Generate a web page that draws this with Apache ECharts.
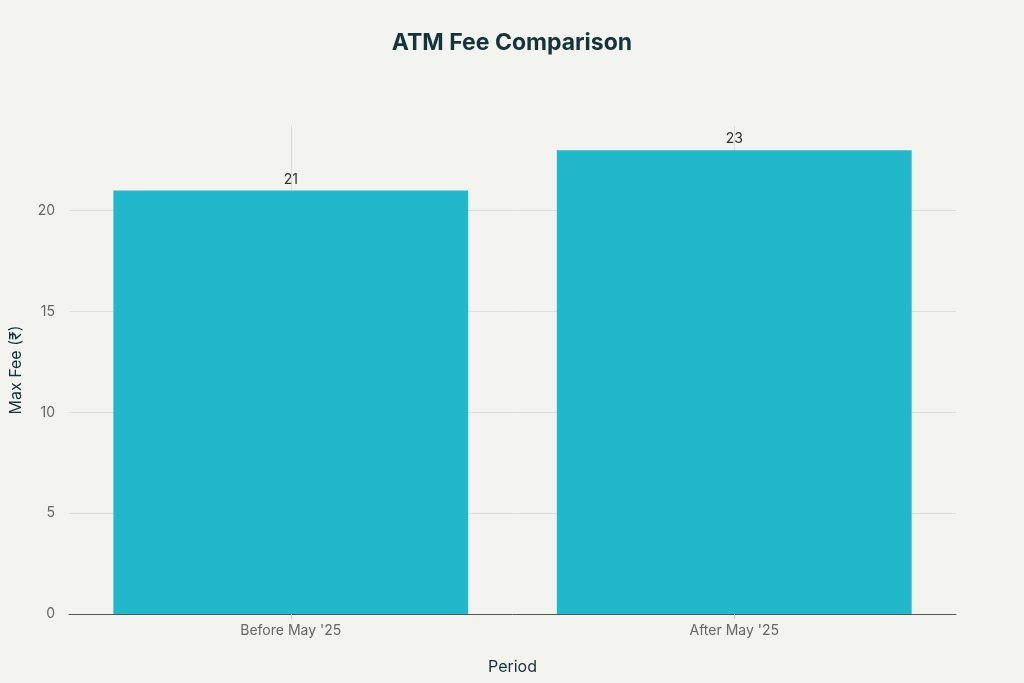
<!DOCTYPE html>
<html><head><meta charset="utf-8">
<script src="https://cdn.jsdelivr.net/npm/echarts@6/dist/echarts.min.js"></script>
<style>html,body{margin:0;padding:0;background:#f3f3ef}#c{width:1024px;height:683px}</style>
</head><body><div id="c"></div>
<script>
const categories = ["Before May '25", "After May '25"];
const maxFee = [21, 23];
const yTicks = [0, 5, 10, 15, 20];

const font = 'Inter, "Noto Sans", "DejaVu Sans", sans-serif';
const chart = echarts.init(document.getElementById('c'));
chart.setOption({
  backgroundColor: '#f3f3ef',
  textStyle: { fontFamily: font },
  title: { text: 'ATM Fee Comparison', left: 'center', top: 27,
    textStyle: { fontSize: 23, fontWeight: 'bold', color: '#13343b', fontFamily: font } },
  grid: { left: 68, right: 68, top: 126, bottom: 69 },
  xAxis: [{
    type: 'category', data: categories,
    name: 'Period', nameLocation: 'middle', nameGap: 45,
    nameTextStyle: { fontSize: 16, color: '#13343b' },
    axisLine: { lineStyle: { color: '#555', width: 1 } },
    axisTick: { show: true, alignWithLabel: true, length: 5, lineStyle: { color: '#d0d0d0' } },
    axisLabel: { fontSize: 14, color: '#666', margin: 10 },
    splitLine: { show: false }
  }, {
    type: 'category', data: ['', '', '', '', ''], boundaryGap: false,
    position: 'bottom', show: true,
    axisLine: { show: false }, axisTick: { show: false }, axisLabel: { show: false },
    splitLine: { show: true, interval: (i) => i === 1 || i === 3, lineStyle: { color: '#dcdcdc', width: 1 } }
  }],
  yAxis: {
    type: 'value', min: 0, max: 24.2, interval: 5,
    name: 'Max Fee (₹)', nameLocation: 'middle', nameGap: 45,
    nameTextStyle: { fontSize: 16, color: '#13343b' },
    axisLine: { show: false },
    axisTick: { show: false },
    axisLabel: { fontSize: 14, color: '#666', margin: 14,
      formatter: (v) => yTicks.indexOf(v) >= 0 ? String(v) : '' },
    splitLine: { showMaxLine: false, lineStyle: { color: '#dcdcdc', width: 1 } }
  },
  series: [{
    type: 'bar', data: maxFee, xAxisIndex: 0,
    barCategoryGap: '20%',
    itemStyle: { color: '#21b8cc' },
    label: { show: true, position: 'top', fontSize: 14, color: '#333', distance: 4 }
  }]
});
</script></body></html>
